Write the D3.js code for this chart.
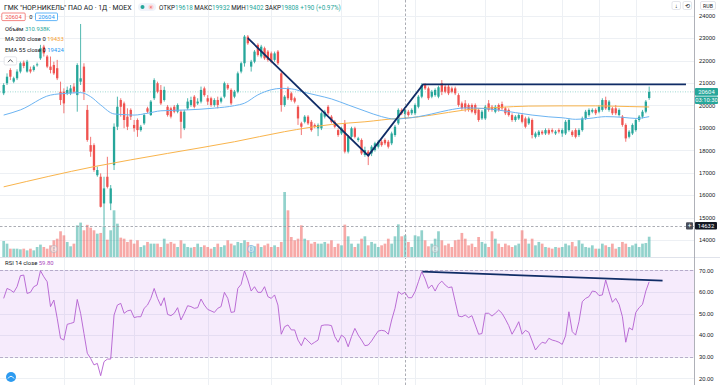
<!DOCTYPE html>
<html lang="ru">
<head>
<meta charset="UTF-8">
<title>ГМК НорНикель 1Д</title>
<script src="https://d3js.org/d3.v7.min.js"></script>
<style>
  body { margin: 0; background: #fff; }
  svg { display: block; font-family: Roboto, "Noto Sans", sans-serif; }
  .axis text { font-size: 5.8px; fill: #131722; }
</style>
</head>
<body>
<svg id="chart" width="720" height="385"></svg>
<script>
// daily candles: open, high, low, close
const ohlc = [
  [20540,20990,20460,20910],[20990,21430,20910,21280],[21580,21660,21130,21280],[21060,21280,20990,21210],
  [21210,21610,21130,21510],[21510,21950,21430,21880],[21910,22000,21660,21760],[21510,22030,21460,21950],
  [21610,21730,21430,21510],[21580,21800,21510,21730],[21790,21910,21730,21830],[22100,22700,22030,22550],
  [22620,22700,22180,22320],[22180,22250,21660,21730],[21730,22180,21430,21580],[21800,21950,21360,21430],
  [21660,22030,21130,21210],[20610,21060,20020,20240],[20610,20760,19650,20090],[20540,20840,20460,20690],
  [20540,20910,20460,20760],[20840,20990,20540,20610],[20460,21880,19720,21800],[21060,23630,20910,21210],
  [21730,21880,20240,20610],[19800,20020,18380,18460],[18230,18600,17710,17940],[18230,18310,17040,17120],
  [16890,17270,16820,17120],[16820,16970,15450,15480],[15630,16820,14632,16300],[16820,17710,16300,16370],
  [15630,16450,15330,16300],[17340,19200,17120,19050],[19050,20390,18900,19940],[20240,20320,19500,19940],
  [20090,20170,18980,19350],[19500,19870,18900,19050],[19800,19870,19350,19500],[19130,19350,18830,18980],
  [19350,19420,18600,18900],[18900,19130,18830,19050],[19200,19650,19130,19570],[19870,19940,19650,19720],
  [19570,20240,19530,20170],[20320,21210,20240,21130],[20990,21060,20540,20610],[20690,20910,20020,20090],
  [20240,20840,20170,20690],[19940,20020,19500,19570],[19870,19940,19420,19500],[19940,20020,19650,19720],
  [19720,20090,19650,20020],[19720,19800,18530,19270],[18980,19800,18900,19720],[19870,20320,19800,20170],
  [20020,20390,19940,20240],[20390,20460,19870,19940],[20090,20320,20020,20170],[20170,20840,20090,20690],
  [20760,20840,20390,20460],[20320,20460,20020,20170],[20320,20390,19940,20020],[20020,20320,19940,20240],
  [20240,20390,19870,20020],[20170,20390,20090,20320],[20390,21060,20320,20990],[20910,20990,20690,20760],
  [20690,20760,20020,20090],[20390,20690,20320,20610],[20610,21510,20540,21430],[21510,21950,21430,21880],
  [21880,23140,21730,23070],[23070,23140,22700,22770],[21730,22030,21510,21950],[21950,22470,21880,22400],
  [22700,22770,22180,22250],[22180,22700,22100,22620],[22550,22620,22030,22100],[22400,22470,21950,22030],
  [22320,22400,21880,21950],[22030,22400,21950,22320],[22400,22470,21800,21880],[21430,21510,19720,20020],
  [20020,20460,19940,20390],[20760,20840,20240,20320],[20540,20610,20170,20240],[20320,20390,20090,20170],
  [19940,20020,19130,19420],[19200,19270,18680,19050],[19270,19570,19200,19500],[19500,19570,19130,19200],
  [19270,19350,18830,18900],[19130,19200,18980,19050],[18980,19200,18630,19130],[18980,19720,18900,19650],
  [19500,19800,19420,19720],[19940,20020,19570,19650],[19500,19570,19200,19270],[19270,19350,18980,19050],
  [18900,18980,18600,18680],[18750,19050,18680,18980],[19200,19350,17860,17940],[17940,18680,17860,18600],
  [18600,19050,18530,18980],[18980,19050,18530,18600],[18460,18600,18380,18530],[18460,18530,17790,17860],
  [17790,18160,17710,18010],[17940,18010,17340,17740],[17860,18230,17740,18160],[18010,18380,17940,18310],
  [18160,18460,18080,18380],[18380,18460,18160,18230],[18460,18530,18230,18310],[18380,18460,18080,18160],
  [18310,18830,18230,18750],[18680,19130,18600,19050],[19200,19870,19130,19800],[19800,19870,19570,19650],
  [19618,19932,19402,19808],[19720,19800,19500,19570],[19650,19870,19570,19800],[19650,20090,19570,20020],
  [19940,20460,19870,20390],[20390,20990,20320,20910],[20910,20990,20690,20760],[20760,20840,20240,20320],
  [20390,20690,20320,20610],[20460,20760,20390,20690],[20390,20880,20320,20810],[20990,21130,20460,20610],
  [20840,20910,20540,20610],[20840,20910,20460,20540],[20760,20840,20540,20610],[20760,20840,20460,20540],
  [20460,20540,19940,20020],[20090,20170,19800,19870],[20090,20240,19720,19870],[20020,20090,19720,19800],
  [20020,20090,19650,19720],[20020,20090,19570,19650],[19800,19870,19270,19350],[19420,19800,19350,19720],
  [19420,20020,19350,19940],[20090,20240,19720,19800],[19940,20020,19720,19800],[19720,20020,19650,19940],
  [20020,20090,19720,19800],[20060,20170,19800,19870],[19870,19940,19570,19650],[19800,19870,19500,19570],
  [19570,19650,19270,19350],[19350,19570,19270,19500],[19420,19650,19350,19570],[19570,19650,19200,19270],
  [19420,19500,18980,19050],[19200,19500,19130,19420],[19350,19420,18530,18680],[18600,18830,18530,18750],
  [18680,18900,18600,18830],[18830,18900,18680,18750],[18750,18980,18680,18900],[18900,18980,18680,18750],
  [18900,18980,18750,18830],[18750,18900,18680,18830],[18900,18980,18750,18830],[18750,18980,18600,18900],
  [18750,19350,18680,19270],[18900,19420,18830,19350],[18830,18900,18600,18680],[18900,18980,18530,18600],
  [18680,18980,18600,18900],[18900,19500,18830,19420],[19420,19800,19350,19720],[19570,19870,19500,19800],
  [19720,19870,19650,19800],[19800,19870,19570,19650],[19720,20020,19650,19940],[19800,20320,19720,20240],
  [20240,20390,19800,19870],[19800,20240,19720,20170],[19870,19940,19570,19650],[19870,20020,19570,19650],
  [19570,19870,19500,19800],[19500,19570,19050,19130],[19130,19200,18380,18530],[18600,18900,18530,18830],
  [18750,19200,18680,19130],[18900,19420,18830,19350],[19350,19570,19270,19500],[19500,19800,19420,19720],
  [19720,20240,19650,20170],[20330,20840,20250,20604]
];

// volume, thousands of shares
const volume = [
  229,191,119,119,119,110,119,95,119,95,143,177,143,119,167,239,262,368,310,215,
  153,191,453,492,382,460,420,382,334,344,439,248,382,668,477,277,262,215,248,191,
  239,143,167,215,191,191,191,143,262,191,215,191,143,239,191,143,134,143,191,143,
  167,143,119,143,191,143,167,239,191,167,215,200,239,215,167,153,191,143,167,191,
  143,167,143,215,930,668,286,239,262,453,262,239,191,215,191,191,215,191,239,143,
  191,167,463,296,191,143,191,262,296,167,215,191,143,167,191,262,191,296,467,296,
  310.938,215,143,310,296,382,239,153,191,262,368,239,167,191,143,239,248,344,262,167,
  191,143,286,215,191,143,368,262,191,143,191,167,143,167,191,382,262,191,262,167,
  215,191,143,134,119,143,134,143,191,167,215,153,239,191,143,134,167,119,119,191,
  167,143,191,119,143,215,191,143,167,191,143,191,200,290
];

// RSI 14 close
const rsi = [
  57.0,61.6,60.9,59.8,62.4,67.5,67.8,59.3,59.8,62.4,63.2,69.8,67.0,64.7,53.2,56.2,47.8,38.5,37.7,45.0,
  45.4,45.9,56.5,50.1,40.8,31.6,29.2,26.2,26.9,21.2,27.7,28.9,28.9,49.3,53.9,54.7,50.1,51.2,51.6,48.1,
  48.5,48.5,52.4,53.9,57.0,61.6,57.0,53.6,57.3,49.6,49.0,50.1,52.7,47.0,50.1,53.6,53.2,52.4,52.7,56.7,
  53.9,51.9,51.2,50.5,52.4,53.2,59.8,57.0,50.5,50.8,61.6,63.5,69.7,65.5,60.4,62.4,59.8,59.8,62.4,57.8,
  57.0,58.6,53.9,40.4,43.9,44.7,42.4,42.4,37.7,35.1,38.8,37.3,35.7,36.7,37.7,44.4,44.7,44.7,44.4,39.3,
  36.7,40.0,38.8,34.6,39.3,43.1,40.0,37.7,35.1,35.4,37.3,39.7,41.9,42.2,41.9,40.4,47.0,52.4,60.1,58.9,
  59.8,57.3,57.3,60.1,64.7,69.4,66.0,61.6,63.2,60.4,63.5,65.0,63.2,62.0,62.3,55.5,48.8,48.5,49.3,48.1,
  49.0,44.7,40.4,40.7,50.1,50.1,48.8,50.1,51.6,50.1,47.4,44.4,40.4,43.1,46.2,40.4,42.2,41.3,37.3,33.1,
  35.1,36.7,36.2,38.5,37.7,37.3,36.7,35.7,39.7,50.8,41.6,40.0,46.2,55.5,57.0,57.8,60.4,60.1,58.3,58.6,
  65.5,60.1,55.2,57.0,54.2,48.5,36.7,43.4,42.4,50.5,52.7,54.2,60.4,64.7
];

// moving averages read at bar index
const ma200 = [[0,16370],[27,17270],[49,17860],[69,18380],[84,18830],[98,19150],[108,19270],[118,19420],
  [120,19433],[128,19570],[138,19800],[148,19910],[157,19970],[167,19980],[177,19980],[187,19950],[193,19930]];
const ema55 = [[0,19570],[5,19800],[14,20460],[19,20540],[23,20570],[26,20390],[29,20020],[33,19620],[36,19590],
  [39,19570],[43,19650],[47,19760],[55,19800],[63,19880],[69,19990],[72,20100],[76,20470],[80,20700],[83,20760],
  [86,20740],[90,20580],[94,20440],[98,20290],[103,20020],[108,19750],[113,19500],[117,19390],[120,19424],
  [124,19500],[128,19620],[133,19790],[138,19890],[143,19870],[148,19790],[153,19680],[158,19570],[163,19490],
  [167,19450],[171,19380],[175,19420],[180,19500],[185,19470],[189,19420],[193,19500]];

// hand-drawn lines
const trendPrice = [[73,23000],[109,17760],[125.4,20940],[204,20940]];
const trendRsi = [[125.2,69.4],[197,65.2]];

const priceTicks = [14000,15000,16000,17000,18000,19000,20000,21000,22000,23000,24000];
const rsiTicks = [20,30,40,50,60,70];
const timeGrid = [18,39,61,80,101,112,123,144,155,167,178,189];

const crossIdx = 120, crossPrice = 14632, lastPrice = 20604;

const up = "#26a69a", down = "#ef5350";
const paneR = 694, mainB = 257, rsiT = 258;

const svg = d3.select("#chart");
svg.append("rect").attr("width", 720).attr("height", 385).attr("fill", "#fff");

const x = d3.scaleLinear().domain([-1.1, 206.4]).range([0, paneR]);
const y = d3.scaleLinear().domain([14000, 24000]).range([240, 15.7]);
const yVol = d3.scaleLinear().domain([0, 930]).range([mainB, mainB - 65]);
const yR = d3.scaleLinear().domain([30, 70]).range([356.7, 270.3]);

const defs = svg.append("defs");
defs.append("clipPath").attr("id", "clipMain").append("rect").attr("width", paneR).attr("height", mainB);
defs.append("clipPath").attr("id", "clipRsi").append("rect").attr("y", rsiT).attr("width", paneR).attr("height", 385 - rsiT);

const px = v => Math.round(v) + 0.5;

// grid
const grid = svg.append("g").attr("stroke", "#edf0f4").attr("stroke-width", 1);
grid.selectAll(".vg").data(timeGrid).join("line")
  .attr("x1", d => px(x(d))).attr("x2", d => px(x(d))).attr("y1", 0).attr("y2", 385);
grid.selectAll(".hg").data(priceTicks).join("line")
  .attr("x1", 0).attr("x2", paneR).attr("y1", d => px(y(d))).attr("y2", d => px(y(d)));
grid.selectAll(".rg").data(rsiTicks).join("line")
  .attr("x1", 0).attr("x2", paneR).attr("y1", d => px(yR(d))).attr("y2", d => px(yR(d)));

// RSI band
const rsiG = svg.append("g").attr("clip-path", "url(#clipRsi)");
rsiG.append("rect").attr("x", 0).attr("width", paneR)
  .attr("y", yR(70)).attr("height", yR(30) - yR(70)).attr("fill", "rgba(170,60,230,0.1)");
rsiG.selectAll(".band").data([30, 70]).join("line")
  .attr("x1", 0).attr("x2", paneR).attr("y1", d => px(yR(d))).attr("y2", d => px(yR(d)))
  .attr("stroke", "#a99cbf").attr("stroke-dasharray", "3,2").attr("stroke-width", 0.8);

const main = svg.append("g").attr("clip-path", "url(#clipMain)");

// volume
main.append("g").selectAll("rect").data(volume).join("rect")
  .attr("x", (d, i) => x(i) - 1.35).attr("width", 2.7)
  .attr("y", d => yVol(d)).attr("height", d => mainB - yVol(d))
  .attr("fill", (d, i) => ohlc[i][3] >= ohlc[i][0] ? "rgba(38,166,154,0.5)" : "rgba(239,83,80,0.5)");

// last price line
main.append("line").attr("x1", 0).attr("x2", paneR)
  .attr("y1", y(lastPrice)).attr("y2", y(lastPrice))
  .attr("stroke", up).attr("stroke-opacity", 0.55).attr("stroke-dasharray", "1,1.5").attr("stroke-width", 0.8);

// candles
const cg = main.append("g");
cg.selectAll("line").data(ohlc).join("line")
  .attr("x1", (d, i) => x(i)).attr("x2", (d, i) => x(i))
  .attr("y1", d => y(d[1])).attr("y2", d => y(d[2]))
  .attr("stroke", d => d[3] >= d[0] ? up : down).attr("stroke-width", 0.8);
cg.selectAll("rect").data(ohlc).join("rect")
  .attr("x", (d, i) => x(i) - 1.15).attr("width", 2.3)
  .attr("y", d => y(Math.max(d[0], d[3])))
  .attr("height", d => Math.max(0.8, Math.abs(y(d[0]) - y(d[3]))))
  .attr("fill", d => d[3] >= d[0] ? up : down);

// moving averages
const maLine = d3.line().x(d => x(d[0])).y(d => y(d[1])).curve(d3.curveMonotoneX);
main.append("path").attr("d", maLine(ma200)).attr("fill", "none").attr("stroke", "#f9b44c").attr("stroke-width", 1);
main.append("path").attr("d", maLine(ema55)).attr("fill", "none").attr("stroke", "#6cb4f2").attr("stroke-width", 1);

// trend lines
const navy = "#102c66";
main.append("path").attr("d", d3.line().x(d => x(d[0])).y(d => y(d[1]))(trendPrice))
  .attr("fill", "none").attr("stroke", navy).attr("stroke-width", 1.8);

// RSI line
rsiG.append("path").attr("d", d3.line().x((d, i) => x(i)).y(d => yR(d))(rsi))
  .attr("fill", "none").attr("stroke", "#b35fd0").attr("stroke-width", 0.9);
rsiG.append("path").attr("d", d3.line().x(d => x(d[0])).y(d => yR(d[1]))(trendRsi))
  .attr("fill", "none").attr("stroke", navy).attr("stroke-width", 1.6);

// event markers
const marks = [[15, "E", "#b2b5be"], [74, "D", "#7fb1e8"], [129, "E", "#b2b5be"]];
const mg = svg.append("g");
marks.forEach(m => {
  mg.append("circle").attr("cx", x(m[0])).attr("cy", 249).attr("r", 3.6)
    .attr("fill", "rgba(255,255,255,0.4)").attr("stroke", m[2]).attr("stroke-width", 0.7);
  mg.append("text").attr("x", x(m[0])).attr("y", 251).attr("text-anchor", "middle")
    .attr("font-size", 4.5).attr("fill", m[2]).text(m[1]);
});

// crosshair
const cross = svg.append("g").attr("stroke", "#9598a1").attr("stroke-width", 0.8).attr("stroke-dasharray", "2.5,2");
cross.append("line").attr("x1", px(x(crossIdx))).attr("x2", px(x(crossIdx))).attr("y1", 0).attr("y2", 385);
cross.append("line").attr("x1", 0).attr("x2", paneR).attr("y1", px(y(crossPrice))).attr("y2", px(y(crossPrice)));

// pane borders
svg.append("line").attr("x1", 0).attr("x2", 720).attr("y1", mainB + 0.5).attr("y2", mainB + 0.5).attr("stroke", "#e0e3eb");
svg.append("line").attr("x1", paneR + 0.5).attr("x2", paneR + 0.5).attr("y1", 0).attr("y2", 385).attr("stroke", "#9a9da6").attr("stroke-width", 0.8);

// axes
const ax = svg.append("g").attr("class", "axis").attr("transform", `translate(${paneR},0)`)
  .call(d3.axisRight(y).tickValues(priceTicks).tickSize(0).tickPadding(5).tickFormat(d3.format("d")));
ax.select(".domain").remove();
const axR = svg.append("g").attr("class", "axis").attr("transform", `translate(${paneR},0)`)
  .call(d3.axisRight(yR).tickValues(rsiTicks).tickSize(0).tickPadding(5).tickFormat(d3.format(".2f")));
axR.select(".domain").remove();

// price labels on the axis
function tag(yc, w, h, fill, label, color) {
  svg.append("rect").attr("x", paneR + 1).attr("y", yc - h / 2).attr("width", w).attr("height", h).attr("rx", 1).attr("fill", fill);
  svg.append("text").attr("x", paneR + 1 + w / 2).attr("y", yc + 2).attr("text-anchor", "middle")
    .attr("font-size", 5.8).attr("fill", color).text(label);
}
tag(y(lastPrice), 23, 7.6, up, "20604", "#fff");
tag(y(lastPrice) + 8.4, 23, 7.6, up, "03:10:30", "#fff");
tag(y(crossPrice), 22, 7.6, "#131722", "14632", "#fff");
svg.append("rect").attr("x", 686).attr("y", y(crossPrice) - 3.6).attr("width", 7).attr("height", 7.2).attr("rx", 1).attr("fill", "#4a4e59");
svg.append("text").attr("x", 689.5).attr("y", y(crossPrice) + 2.2).attr("text-anchor", "middle").attr("font-size", 6.5).attr("fill", "#fff").text("+");

// top-right buttons
[[672, "↓"], [683, "⟲"]].forEach(b => {
  svg.append("rect").attr("x", b[0]).attr("y", 1.5).attr("width", 8.5).attr("height", 8).attr("rx", 1.5)
    .attr("fill", "#fff").attr("stroke", "#d1d4dc").attr("stroke-width", 0.6);
  svg.append("text").attr("x", b[0] + 4.25).attr("y", 8).attr("text-anchor", "middle").attr("font-size", 6).attr("fill", "#131722").text(b[1]);
});
svg.append("rect").attr("x", 700.5).attr("y", 1.5).attr("width", 15).attr("height", 8).attr("rx", 1.5)
  .attr("fill", "#fff").attr("stroke", "#d1d4dc").attr("stroke-width", 0.6);
svg.append("text").attr("x", 708).attr("y", 7.8).attr("text-anchor", "middle").attr("font-size", 5.2).attr("fill", "#131722").text("RUB");

// legend
const dark = "#131722";
const t1 = svg.append("text").attr("x", 4).attr("y", 9.8).attr("font-size", 6.9).attr("fill", dark);
t1.text('ГМК "НОР.НИКЕЛЬ" ПАО АО · 1Д · MOEX');
svg.append("rect").attr("x", 138).attr("y", 3).attr("width", 18).attr("height", 8).attr("rx", 4).attr("fill", "#f0f3fa");
svg.append("circle").attr("cx", 142.5).attr("cy", 7).attr("r", 2).attr("fill", up);
svg.append("circle").attr("cx", 151).attr("cy", 7).attr("r", 2.6).attr("fill", "#fbd5d5");
svg.append("text").attr("x", 151).attr("y", 8.8).attr("text-anchor", "middle").attr("font-size", 4.5).attr("fill", down).text("×");

const ohlcText = svg.append("text").attr("x", 159).attr("y", 9.6).attr("font-size", 6.3).attr("fill", dark);
[["ОТКР", dark], ["19618", up], [" МАКС", dark], ["19932", up], [" МИН", dark], ["19402", up],
 [" ЗАКР", dark], ["19808", up], [" +190 (+0.97%)", up]].forEach(s => ohlcText.append("tspan").attr("fill", s[1]).text(s[0]));

svg.append("rect").attr("x", 1.8).attr("y", 13).attr("width", 23.4).attr("height", 7.6).attr("rx", 1)
  .attr("fill", "#fff").attr("stroke", down).attr("stroke-width", 0.7);
svg.append("text").attr("x", 13.5).attr("y", 18.9).attr("text-anchor", "middle").attr("font-size", 5.8).attr("fill", down).text("20604");
svg.append("text").attr("x", 30.8).attr("y", 18.9).attr("text-anchor", "middle").attr("font-size", 5.8).attr("fill", dark).text("0");
svg.append("rect").attr("x", 35.5).attr("y", 13).attr("width", 22).attr("height", 7.6).attr("rx", 1)
  .attr("fill", "#fff").attr("stroke", "#2196f3").attr("stroke-width", 0.7);
svg.append("text").attr("x", 46.5).attr("y", 18.9).attr("text-anchor", "middle").attr("font-size", 5.8).attr("fill", "#2196f3").text("20604");

function legendRow(yb, label, value, color) {
  const t = svg.append("text").attr("x", 5).attr("y", yb).attr("font-size", 5.9).attr("fill", dark);
  t.append("tspan").text(label + " ");
  t.append("tspan").attr("fill", color).text(value);
}
legendRow(31.3, "Объём", "310.938K", up);
legendRow(41, "MA 200 close 0", "19433", "#f7a230");
legendRow(52, "EMA 55 close 0", "19424", "#2196f3");
svg.append("rect").attr("x", 4.2).attr("y", 56.8).attr("width", 12.4).attr("height", 8.2).attr("rx", 1.5)
  .attr("fill", "#fff").attr("stroke", "#d1d4dc").attr("stroke-width", 0.6);
svg.append("path").attr("d", "M8,62.2 L10.4,59.6 L12.8,62.2").attr("fill", "none").attr("stroke", dark).attr("stroke-width", 0.7);

legendRow(265.2, "RSI 14 close", "59.80", "#ab47bc");

// logo at bottom left
svg.append("circle").attr("cx", 11).attr("cy", 377).attr("r", 5).attr("fill", "#2d9bf0");
svg.append("path").attr("d", "M8,378.5 Q11,374 14,378.5").attr("fill", "none").attr("stroke", "#fff").attr("stroke-width", 0.9);
</script>
</body>
</html>
